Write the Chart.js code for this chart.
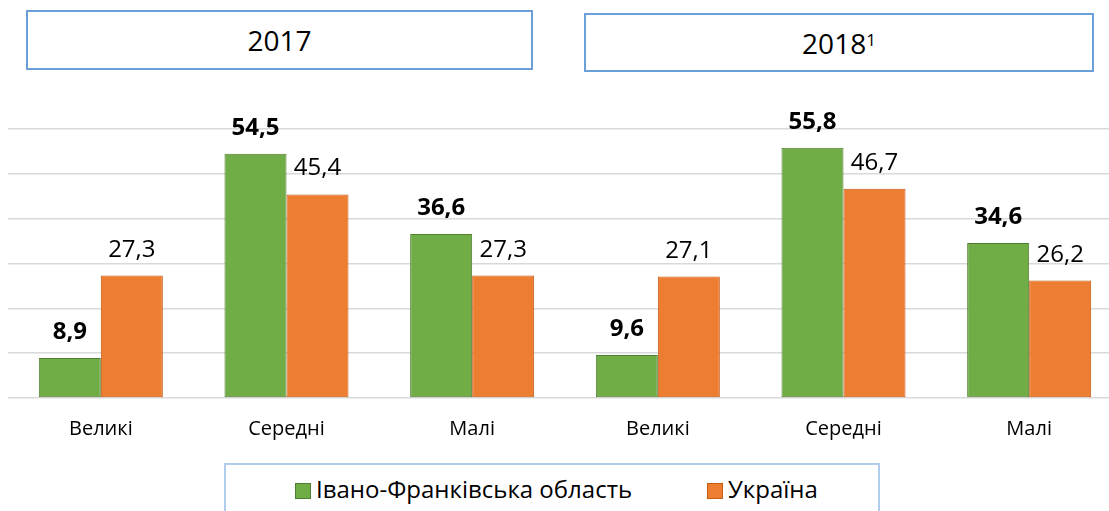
<!DOCTYPE html>
<html>
<head>
<meta charset="utf-8">
<script src="https://cdn.jsdelivr.net/npm/chart.js@4"></script>
<style>
  html, body { margin: 0; padding: 0; background: #fff; overflow: hidden; width: 1109px; height: 511px; }
  body { position: relative; font-family: "Open Sans", sans-serif; color: #000; }
  #wrap { position: absolute; left: 0; top: 0; width: 1124px; height: 511px; }
  .yearBox { position: absolute; border: 2px solid #6a9fd7; box-sizing: border-box;
             display: flex; align-items: center; justify-content: center; font-size: 28px; background: #fff; }
  .yearBox sup { font-size: 17px; position: relative; top: -3px; }
  #legend { position: absolute; left: 224px; top: 463px; width: 656px; height: 60px;
            border: 2px solid #b0cdeb; box-sizing: border-box; background: #fff; }
  .item { position: absolute; top: 9px; font-size: 24px; line-height: 30px; white-space: nowrap; }
  .sw { display: inline-block; width: 14px; height: 14px; border: 1px solid; margin-right: 5px; vertical-align: -1px; }
</style>
</head>
<body>
<div id="wrap"><canvas id="chart"></canvas></div>
<div class="yearBox" style="left:26px;top:10px;width:507px;height:60px;">2017</div>
<div class="yearBox" style="left:584px;top:13px;width:510px;height:59px;">2018<sup>1</sup></div>
<div id="legend">
  <div class="item" style="left:69px;"><span class="sw" style="background:#70ad47;border-color:#507e32;"></span>Івано-Франківська область</div>
  <div class="item" style="left:481px;"><span class="sw" style="background:#ed7d31;border-color:#c55a11;"></span>Україна</div>
</div>
<script>
const categories = ['Великі', 'Середні', 'Малі', 'Великі', 'Середні', 'Малі'];
const regionValues = [8.9, 54.5, 36.6, 9.6, 55.8, 34.6];
const ukraineValues = [27.3, 45.4, 27.3, 27.1, 46.7, 26.2];
const seriesNames = ['Івано-Франківська область', 'Україна'];

// підписи значень над стовпчиками, з комою як у Excel
const valueLabels = {
  id: 'valueLabels',
  afterDatasetsDraw(chart) {
    const ctx = chart.ctx;
    ctx.save();
    ctx.textAlign = 'center';
    ctx.textBaseline = 'alphabetic';
    ctx.fillStyle = '#000';
    chart.data.datasets.forEach((ds, di) => {
      ctx.font = (di === 0 ? 'bold ' : '') + '24px "Open Sans"';
      chart.getDatasetMeta(di).data.forEach((bar, i) => {
        const txt = ds.data[i].toFixed(1).replace('.', ',');
        ctx.fillText(txt, bar.x, bar.y - 19);
      });
    });
    ctx.restore();
  }
};

const ctx = document.getElementById('chart').getContext('2d');
new Chart(ctx, {
  type: 'bar',
  data: {
    labels: categories,
    datasets: [{
      label: seriesNames[0],
      data: regionValues,
      backgroundColor: '#70ad47',
      borderColor: '#507e32',
      borderWidth: 1,
      borderSkipped: false
    }, {
      label: seriesNames[1],
      data: ukraineValues,
      backgroundColor: '#ed7d31',
      borderColor: '#c55a11',
      borderWidth: 1,
      borderSkipped: false
    }]
  },
  options: {
    responsive: true,
    maintainAspectRatio: false,
    animation: false,
    layout: { padding: { left: 8, right: 2, top: 129, bottom: 51 } },
    datasets: { bar: { categoryPercentage: 0.668, barPercentage: 1 } },
    scales: {
      x: {
        grid: { display: false, drawTicks: false },
        border: { display: false },
        ticks: { color: '#000', font: { family: 'Open Sans', size: 20 }, padding: 19 }
      },
      y: {
        min: 0,
        max: 60,
        ticks: { display: false, stepSize: 10 },
        grid: { color: '#d9d9d9', lineWidth: 1.5, drawTicks: false },
        border: { display: false }
      }
    },
    plugins: {
      legend: { display: false },
      tooltip: { enabled: false }
    }
  },
  plugins: [valueLabels]
});
</script>
</body>
</html>
